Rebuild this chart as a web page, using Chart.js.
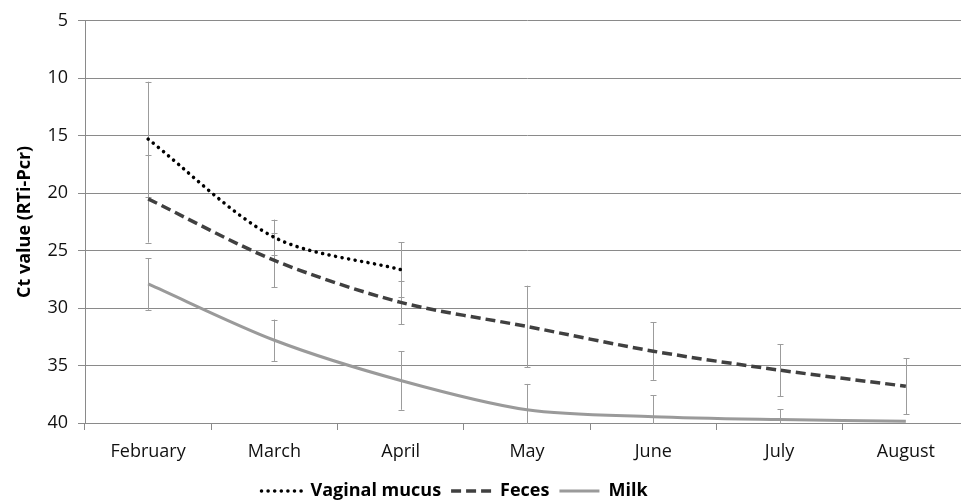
<!DOCTYPE html>
<html>
<head>
<meta charset="utf-8">
<script src="https://cdn.jsdelivr.net/npm/chart.js@4"></script>
<style>
  html, body { margin: 0; padding: 0; background: #fff; overflow: hidden; }
  #wrap { position: relative; width: 970px; height: 501px; }
</style>
</head>
<body>
<div id="wrap"><canvas id="c"></canvas></div>
<script>
const categories = ['February', 'March', 'April', 'May', 'June', 'July', 'August'];
const vaginalMucus = [15.3, 23.85, 26.65, null, null, null, null];
const vaginalMucusErr = [5.0, 1.55, 2.4, null, null, null, null];
const feces = [20.5, 25.85, 29.5, 31.6, 33.75, 35.4, 36.8];
const fecesErr = [3.8, 2.35, 1.9, 3.55, 2.5, 2.25, 2.45];
const milk = [27.9, 32.8, 36.3, 38.85, 39.45, 39.7, 39.85];
const milkErr = [2.25, 1.8, 2.55, 2.25, 1.85, 0.9, 0];
const yTicks = [5, 10, 15, 20, 25, 30, 35, 40];

const seriesErr = [vaginalMucusErr, fecesErr, milkErr];
const FONT = "'Open Sans', 'Liberation Sans', sans-serif";
const GRID = '#8a8a8a';

const errorBars = {
  id: 'errorBars',
  beforeDatasetsDraw(chart) {
    const { ctx, chartArea, scales } = chart;
    const xs = scales.x, ys = scales.y;
    ctx.save();
    ctx.beginPath();
    ctx.rect(chartArea.left, chartArea.top, chartArea.width, chartArea.height + 1);
    ctx.clip();
    ctx.strokeStyle = '#9c9c9c';
    ctx.lineWidth = 1;
    chart.data.datasets.forEach((ds, di) => {
      const errs = seriesErr[di];
      ds.data.forEach((v, i) => {
        const e = errs[i];
        if (v == null || !e) return;
        const px = Math.round(xs.getPixelForValue(i)) + 0.5;
        const yTop = ys.getPixelForValue(v - e);
        const yBot = ys.getPixelForValue(v + e);
        ctx.beginPath();
        ctx.moveTo(px, yTop);
        ctx.lineTo(px, yBot);
        ctx.moveTo(px - 3, Math.round(yTop) + 0.5);
        ctx.lineTo(px + 3, Math.round(yTop) + 0.5);
        ctx.moveTo(px - 3, Math.round(yBot) + 0.5);
        ctx.lineTo(px + 3, Math.round(yBot) + 0.5);
        ctx.stroke();
      });
    });
    ctx.restore();
  }
};

const legendShift = {
  id: 'legendShift',
  afterLayout(chart) {
    const lg = chart.legend;
    if (!lg) return;
    const dx = -30;
    lg.left += dx; lg.right += dx;
    const dy = 501 - 10 - (lg.top + lg.height / 2);
    lg.top += dy; lg.bottom += dy;
  }
};

new Chart(document.getElementById('c'), {
  type: 'line',
  data: {
    labels: categories,
    datasets: [
      {
        label: 'Vaginal mucus',
        data: vaginalMucus,
        borderColor: '#000000',
        backgroundColor: 'rgba(0,0,0,0)',
        borderWidth: 3.5,
        borderDash: [0.1, 6.5],
        borderCapStyle: 'round',
        pointRadius: 0,
        tension: 0.3,
        spanGaps: false
      },
      {
        label: 'Feces',
        data: feces,
        borderColor: '#404040',
        backgroundColor: 'rgba(0,0,0,0)',
        borderWidth: 3.5,
        borderDash: [10, 5],
        borderCapStyle: 'butt',
        pointRadius: 0,
        tension: 0.3
      },
      {
        label: 'Milk',
        data: milk,
        borderColor: '#9a9a9a',
        backgroundColor: 'rgba(0,0,0,0)',
        borderWidth: 3,
        borderDash: [],
        borderCapStyle: 'butt',
        pointRadius: 0,
        tension: 0.3
      }
    ]
  },
  options: {
    responsive: true,
    maintainAspectRatio: false,
    animation: false,
    layout: { padding: { top: 19, right: 1, left: 0, bottom: 0 } },
    plugins: {
      tooltip: { enabled: false },
      legend: {
        position: 'bottom',
        labels: {
          usePointStyle: true,
          pointStyle: 'line',
          pointStyleWidth: 40,
          boxWidth: 40,
          boxHeight: 10,
          padding: 10,
          color: '#000',
          font: { family: FONT, size: 18, weight: 'bold' },
          generateLabels(chart) {
            return chart.data.datasets.map((ds, i) => ({
              text: ds.label,
              datasetIndex: i,
              fillStyle: 'rgba(0,0,0,0)',
              strokeStyle: ds.borderColor,
              lineWidth: ds.borderWidth,
              lineDash: ds.borderDash || [],
              lineCap: ds.borderCapStyle || 'butt',
              pointStyle: 'line',
              fontColor: '#000',
              hidden: false
            }));
          }
        }
      }
    },
    scales: {
      x: {
        type: 'category',
        offset: true,
        grid: {
          offset: true,
          drawOnChartArea: false,
          drawTicks: true,
          tickLength: 7,
          color: GRID
        },
        border: { color: GRID, width: 1 },
        ticks: {
          color: '#111',
          padding: 11,
          maxRotation: 0,
          autoSkip: false,
          font: { family: FONT, size: 18 }
        },
        afterFit(scale) { scale.height = 40; }
      },
      y: {
        reverse: true,
        min: 5,
        max: 40,
        afterBuildTicks(scale) { scale.ticks = yTicks.map(v => ({ value: v })); },
        grid: { color: GRID, tickLength: 7, lineWidth: 1 },
        border: { color: GRID, width: 1 },
        ticks: {
          color: '#111',
          padding: 10,
          font: { family: FONT, size: 18 }
        },
        title: {
          display: true,
          text: 'Ct value (RTi-Pcr)',
          color: '#000',
          padding: { top: 14, bottom: 0 },
          font: { family: FONT, size: 18, weight: 'bold' }
        },
        afterFit(scale) { scale.width = 85; }
      }
    }
  },
  plugins: [errorBars, legendShift]
});
</script>
</body>
</html>
